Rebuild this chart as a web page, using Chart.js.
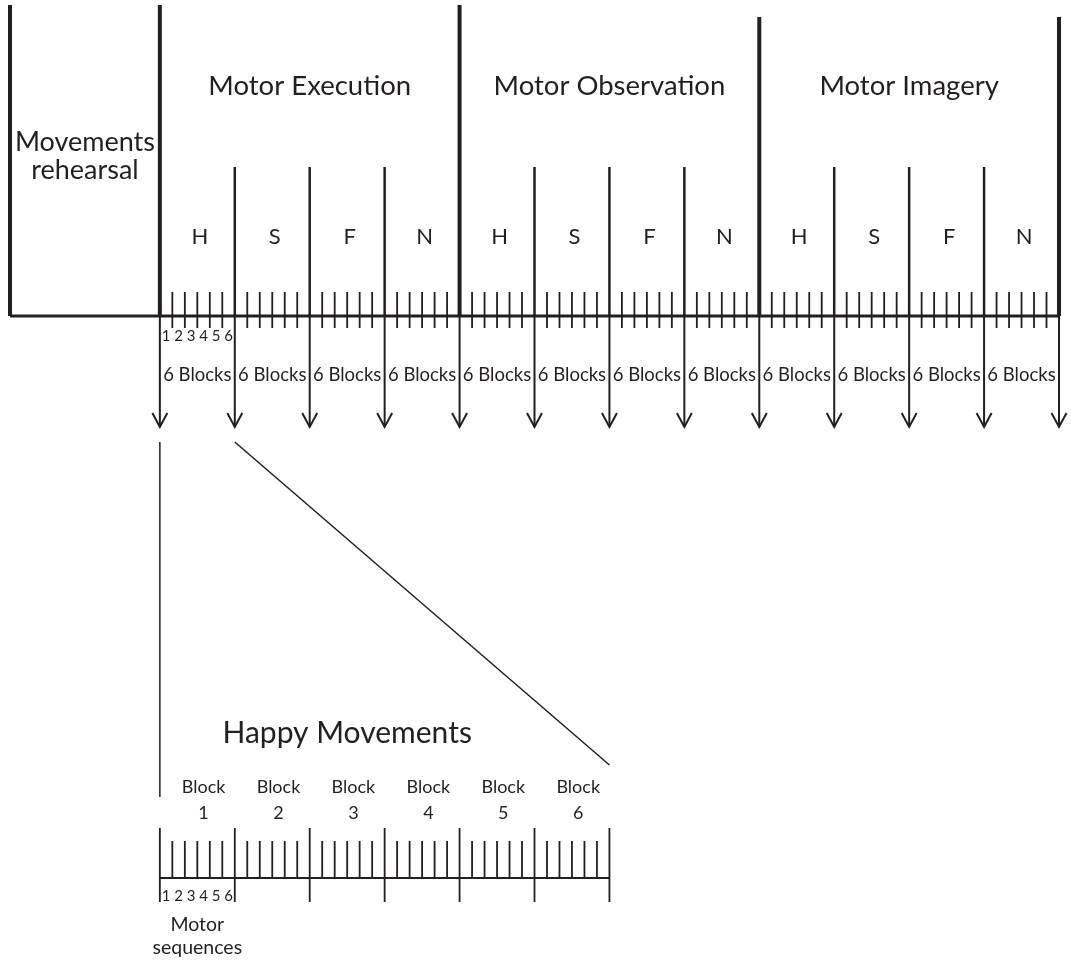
<!DOCTYPE html>
<html>
<head>
<meta charset="utf-8">
<title>Experimental timeline</title>
<script src="https://cdn.jsdelivr.net/npm/chart.js@4.4.1/dist/chart.umd.min.js"></script>
<style>
  html, body { margin: 0; padding: 0; background: #fff; overflow: hidden; }
  canvas { display: block; }
</style>
</head>
<body>
<canvas id="timeline" width="1071" height="962"></canvas>
<script>
// Design of the session, in block units
const phases = ['Motor Execution', 'Motor Observation', 'Motor Imagery'];
const conditions = ['H', 'S', 'F', 'N'];
const blocksPerCondition = 6;
const sequencesPerBlock = 6;
const rehearsalBlocks = 12;
const rehearsalLabel = ['Movements', 'rehearsal'];
const conditionLabel = '6 Blocks';
const blockNumbers = [1, 2, 3, 4, 5, 6];
const sequenceNumbers = [1, 2, 3, 4, 5, 6];
const zoomTitle = 'Happy Movements';
const zoomFootnote = ['Motor', 'sequences'];

// Vertical layout (rows in canvas pixels)
const ROW = {
  boundaryTop: [5, 5, 5, 17, 17],
  conditionTop: 167,
  tickTop: 292,
  baseline: 316,
  tickBottom: 328,
  numbers: 336,
  blocksText: 375,
  arrowTip: 427,
  arrowLen: 14,
  phaseTitle: 86,
  conditionText: 237,
  rehearsal: [142, 170],
  zoomTop: 442,
  zoomLeftEnd: 797,
  zoomDiagEnd: 765,
  zoomTitle: 733,
  blockText: [787, 813],
  blockTop: 828,
  seqTickTop: 841,
  lowBaseline: 878,
  blockBottom: 902,
  lowNumbers: 896,
  footnote: [925, 948]
};

const INK = '#231f20';
const FONT = 'Lato, "Open Sans", sans-serif';

const phaseSpan = conditions.length * blocksPerCondition;
const totalSpan = phases.length * phaseSpan;
const zoomSpan = blockNumbers.length * sequencesPerBlock;
const arrowHalf = 0.6;

// helper: push a line segment followed by a gap
function seg(list, x1, y1, x2, y2) {
  list.push({ x: x1, y: y1 }, { x: x2, y: y2 }, { x: null, y: null });
}

const phaseLines = [];
seg(phaseLines, -rehearsalBlocks, ROW.boundaryTop[0], -rehearsalBlocks, ROW.baseline);
for (let i = 0; i <= phases.length; i++) {
  seg(phaseLines, i * phaseSpan, ROW.boundaryTop[i + 1], i * phaseSpan, ROW.baseline);
}

const baseline = [];
seg(baseline, -rehearsalBlocks, ROW.baseline, totalSpan, ROW.baseline);

const conditionLines = [];
const shafts = [];
const arrowHeads = [];
for (let x = 0; x <= totalSpan; x += blocksPerCondition) {
  if (x % phaseSpan !== 0) seg(conditionLines, x, ROW.conditionTop, x, ROW.baseline);
  seg(shafts, x, ROW.baseline, x, ROW.arrowTip);
  arrowHeads.push(
    { x: x - arrowHalf, y: ROW.arrowTip - ROW.arrowLen },
    { x: x, y: ROW.arrowTip },
    { x: x + arrowHalf, y: ROW.arrowTip - ROW.arrowLen },
    { x: null, y: null }
  );
}

const ticks = [];
for (let x = 1; x < totalSpan; x++) {
  if (x % blocksPerCondition !== 0) seg(ticks, x, ROW.tickTop, x, ROW.tickBottom);
}

const connectors = [];
seg(connectors, 0, ROW.zoomTop, 0, ROW.zoomLeftEnd);
seg(connectors, blocksPerCondition, ROW.zoomTop, zoomSpan, ROW.zoomDiagEnd);

const lowLines = [];
seg(lowLines, 0, ROW.lowBaseline, zoomSpan, ROW.lowBaseline);
for (let x = 0; x <= zoomSpan; x += sequencesPerBlock) {
  seg(lowLines, x, ROW.blockTop, x, ROW.blockBottom);
}
const lowTicks = [];
for (let x = 1; x < zoomSpan; x++) {
  if (x % sequencesPerBlock !== 0) seg(lowTicks, x, ROW.seqTickTop, x, ROW.lowBaseline);
}

function lineSet(data, width) {
  return {
    data: data,
    showLine: true,
    spanGaps: false,
    borderColor: INK,
    borderWidth: width,
    pointRadius: 0,
    clip: false
  };
}

// text labels, positioned from the design arrays
const labels = [];
phases.forEach((p, i) => {
  labels.push({ text: p, x: i * phaseSpan + phaseSpan / 2, y: ROW.phaseTitle, size: 27.5 });
  conditions.forEach((c, j) => {
    const start = i * phaseSpan + j * blocksPerCondition;
    labels.push({ text: c, x: start + blocksPerCondition / 2 + 0.2, y: ROW.conditionText, size: 22 });
    labels.push({ text: conditionLabel, x: start + blocksPerCondition / 2, y: ROW.blocksText, size: 18.5 });
  });
});
rehearsalLabel.forEach((t, i) => {
  labels.push({ text: t, x: -rehearsalBlocks / 2, y: ROW.rehearsal[i], size: 27 });
});
sequenceNumbers.forEach((n, k) => {
  labels.push({ text: String(n), x: k + 0.5, y: ROW.numbers, size: 15 });
  labels.push({ text: String(n), x: k + 0.5, y: ROW.lowNumbers, size: 15 });
});
labels.push({ text: zoomTitle, x: zoomSpan / 2 - 3, y: ROW.zoomTitle, size: 30 });
blockNumbers.forEach((b, j) => {
  const cx = j * sequencesPerBlock + sequencesPerBlock / 2 + 0.5;
  labels.push({ text: 'Block', x: cx, y: ROW.blockText[0], size: 18 });
  labels.push({ text: String(b), x: cx, y: ROW.blockText[1], size: 18 });
});
zoomFootnote.forEach((t, i) => {
  labels.push({ text: t, x: sequencesPerBlock / 2, y: ROW.footnote[i], size: 19.5 });
});

const textPlugin = {
  id: 'diagramText',
  afterDatasetsDraw(chart) {
    const ctx = chart.ctx;
    const xs = chart.scales.x;
    const ys = chart.scales.y;
    ctx.save();
    ctx.fillStyle = INK;
    ctx.textAlign = 'center';
    ctx.textBaseline = 'middle';
    labels.forEach(l => {
      ctx.font = l.size + 'px ' + FONT;
      ctx.fillText(l.text, xs.getPixelForValue(l.x), ys.getPixelForValue(l.y));
    });
    ctx.restore();
  }
};

new Chart(document.getElementById('timeline'), {
  type: 'scatter',
  data: {
    datasets: [
      lineSet(phaseLines, 4),
      lineSet(baseline, 3),
      lineSet(conditionLines, 2.5),
      lineSet(shafts, 2),
      lineSet(arrowHeads, 2),
      lineSet(ticks, 1.8),
      lineSet(connectors, 1.5),
      lineSet(lowLines, 1.8),
      lineSet(lowTicks, 1.8)
    ]
  },
  options: {
    responsive: false,
    devicePixelRatio: 1,
    animation: false,
    events: [],
    layout: { padding: { left: 10, right: 12, top: 0, bottom: 0 } },
    scales: {
      x: { type: 'linear', min: -rehearsalBlocks, max: totalSpan, display: false },
      y: { type: 'linear', min: 0, max: 962, reverse: true, display: false }
    },
    plugins: {
      legend: { display: false },
      tooltip: { enabled: false }
    }
  },
  plugins: [textPlugin]
});
</script>
</body>
</html>
